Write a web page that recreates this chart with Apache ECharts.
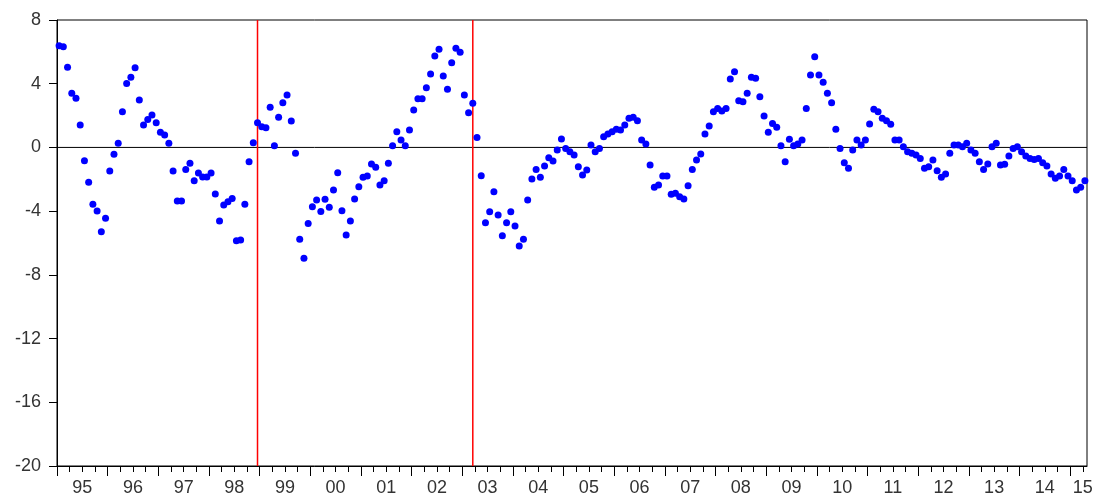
<!DOCTYPE html>
<html>
<head>
<meta charset="utf-8">
<title>Monthly series, 1995M01–2015M04</title>
<script src="https://cdn.jsdelivr.net/npm/echarts@6/dist/echarts.min.js"></script>
<style>
  html, body { margin: 0; padding: 0; background: #fff; }
  #chart { width: 1097px; height: 502px; }
</style>
</head>
<body>
<div id="chart"></div>
<script>
// Sample starts in January 1995, one observation per month.
const startYear = 1995;

// Monthly observations, one row per calendar year.
const y1995 = [6.38, 6.32, 5.03, 3.40, 3.08, 1.41, -0.83, -2.19, -3.57, -3.99, -5.29, -4.45];
const y1996 = [-1.48, -0.43, 0.26, 2.24, 4.02, 4.40, 5.00, 2.98, 1.41, 1.76, 2.03, 1.55];
const y1997 = [0.95, 0.78, 0.26, -1.48, -3.36, -3.36, -1.38, -1.00, -2.09, -1.60, -1.85, -1.85];
const y1998 = [-1.60, -2.92, -4.62, -3.62, -3.41, -3.20, -5.86, -5.81, -3.57, -0.90, 0.30, 1.55];
const y1999 = [1.30, 1.24, 2.52, 0.10, 1.89, 2.81, 3.29, 1.66, -0.37, -5.77, -6.96, -4.77];
const y2000 = [-3.72, -3.30, -4.03, -3.26, -3.76, -2.67, -1.59, -3.97, -5.50, -4.62, -3.24, -2.47];
const y2001 = [-1.88, -1.80, -1.04, -1.25, -2.36, -2.09, -1.00, 0.10, 0.99, 0.46, 0.10, 1.09];
const y2002 = [2.35, 3.06, 3.06, 3.75, 4.61, 5.74, 6.16, 4.48, 3.65, 5.32, 6.22, 5.97];
const y2003 = [3.29, 2.18, 2.77, 0.63, -1.78, -4.73, -4.04, -2.78, -4.24, -5.54, -4.73, -4.04];
const y2004 = [-4.93, -6.19, -5.77, -3.30, -1.98, -1.38, -1.88, -1.17, -0.65, -0.85, -0.16, 0.53];
const y2005 = [-0.06, -0.27, -0.48, -1.21, -1.73, -1.42, 0.15, -0.27, -0.06, 0.67, 0.84, 0.99];
const y2006 = [1.14, 1.09, 1.41, 1.83, 1.89, 1.68, 0.46, 0.21, -1.10, -2.50, -2.36, -1.80];
const y2007 = [-1.80, -2.94, -2.88, -3.09, -3.24, -2.40, -1.38, -0.79, -0.41, 0.84, 1.34, 2.24];
const y2008 = [2.45, 2.28, 2.45, 4.29, 4.75, 2.93, 2.87, 3.40, 4.40, 4.34, 3.18, 1.97];
const y2009 = [0.95, 1.51, 1.26, 0.11, -0.90, 0.51, 0.11, 0.21, 0.46, 2.45, 4.54, 5.69];
const y2010 = [4.54, 4.09, 3.40, 2.81, 1.14, -0.06, -0.96, -1.31, -0.16, 0.46, 0.15, 0.46];
const y2011 = [1.47, 2.39, 2.24, 1.83, 1.68, 1.45, 0.46, 0.46, 0.04, -0.27, -0.37, -0.48];
const y2012 = [-0.69, -1.31, -1.21, -0.79, -1.46, -1.88, -1.67, -0.37, 0.15, 0.15, 0.04, 0.26];
const y2013 = [-0.16, -0.37, -0.90, -1.38, -1.04, 0.04, 0.26, -1.10, -1.06, -0.54, -0.06, 0.04];
const y2014 = [-0.27, -0.54, -0.69, -0.75, -0.69, -0.96, -1.17, -1.67, -1.94, -1.80, -1.38, -1.80];
const y2015 = [-2.09, -2.67, -2.50, -2.09];

// Year labels along the time axis.
const yearLabels = ['95', '96', '97', '98', '99', '00', '01', '02', '03', '04',
                    '05', '06', '07', '08', '09', '10', '11', '12', '13', '14', '15'];

// Value-axis ticks.
const yTicks = [-20, -16, -12, -8, -4, 0, 4, 8];

// Structural break dates marked with vertical lines: [year, month].
const breakDates = [[1998, 12], [2003, 3]];

const values = [].concat(y1995, y1996, y1997, y1998, y1999, y2000, y2001, y2002, y2003,
  y2004, y2005, y2006, y2007, y2008, y2009, y2010, y2011, y2012, y2013, y2014, y2015);

// Time coordinate: months since January 1995; each observation sits mid-month.
const nObs = values.length;
const points = values.map((v, i) => [i + 0.5, v]);
const monthPos = (y, m) => (y - startYear) * 12 + (m - 1) + 0.5;

const yMin = yTicks[0];
const yMax = yTicks[yTicks.length - 1];

const yearTicks = [];
const quarterTicks = [];
for (let t = 0; t <= nObs; t += 3) {
  if (t % 12 === 0) yearTicks.push(t); else quarterTicks.push(t);
}
const labelPos = yearLabels.map((_, k) => Math.min(k * 12 + 6, nObs - 1));

const axisFont = { fontFamily: 'Liberation Sans, Arial, sans-serif', fontSize: 18, color: '#333' };

// Vertical rules at the break dates, spanning the full value range.
const breakSeries = breakDates.map(d => {
  const x = monthPos(d[0], d[1]);
  return {
    type: 'line', z: 1, silent: true, symbol: 'none',
    data: [[x, yMin], [x, yMax]],
    lineStyle: { color: '#ff0000', width: 1.5 },
    emphasis: { disabled: true }
  };
});

const chart = echarts.init(document.getElementById('chart'), null, { renderer: 'canvas' });
chart.setOption({
  animation: false,
  backgroundColor: '#fff',
  grid: {
    left: 57, right: 10, top: 20, bottom: 36,
    show: true, borderColor: '#000', borderWidth: 1, backgroundColor: 'transparent'
  },
  xAxis: [
    {
      type: 'value', min: 0, max: nObs, position: 'bottom',
      splitLine: { show: false },
      axisLine: { onZero: false, lineStyle: { color: '#000', width: 1 } },
      axisTick: { show: true, customValues: yearTicks, length: 10, lineStyle: { color: '#000' } },
      axisLabel: Object.assign({
        customValues: labelPos,
        margin: 13,
        formatter: v => yearLabels[Math.floor(v / 12)]
      }, axisFont)
    },
    {
      type: 'value', min: 0, max: nObs, position: 'bottom',
      splitLine: { show: false },
      axisLine: { show: false, onZero: false },
      axisTick: { show: true, customValues: quarterTicks, length: 6, lineStyle: { color: '#000' } },
      axisLabel: { show: false }
    }
  ],
  yAxis: {
    type: 'value', min: yMin, max: yMax, interval: 4,
    splitLine: { show: false },
    axisLine: { show: true, onZero: false, lineStyle: { color: '#000', width: 1 } },
    axisTick: { show: true, length: 8, lineStyle: { color: '#000' } },
    axisLabel: Object.assign({ margin: 16 }, axisFont)
  },
  series: [
    {
      // zero reference line
      type: 'line', z: 1, silent: true, symbol: 'none',
      data: [[0, 0], [nObs, 0]],
      lineStyle: { color: '#000', width: 1 },
      emphasis: { disabled: true }
    }
  ].concat(breakSeries, [
    {
      type: 'scatter', z: 3,
      data: points,
      symbol: 'circle', symbolSize: 7,
      itemStyle: { color: '#0000ff', opacity: 1 }
    }
  ])
});
</script>
</body>
</html>
